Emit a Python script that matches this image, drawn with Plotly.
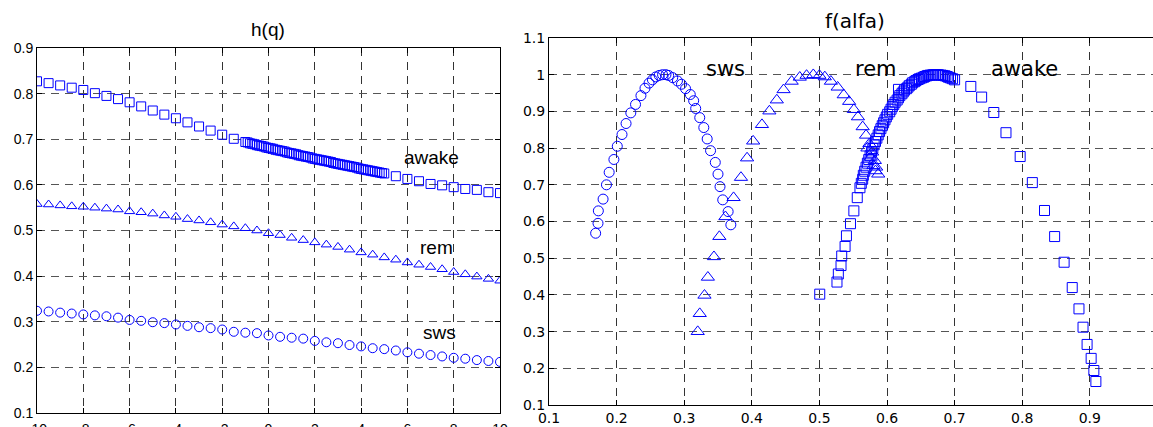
import plotly.graph_objects as go

# ---------------- Left panel: h(q) ----------------
q_coarse = [-10, -9.5, -9, -8.5, -8, -7.5, -7, -6.5, -6, -5.5, -5, -4.5, -4, -3.5, -3, -2.5,
            -2, -1.5, -1, -0.5, 0, 0.5, 1, 1.5, 2, 2.5, 3, 3.5, 4, 4.5, 5, 5.5, 6, 6.5, 7,
            7.5, 8, 8.5, 9, 9.5, 10]

h_sws = [0.324, 0.3225, 0.320, 0.318, 0.316, 0.314, 0.312, 0.309, 0.304, 0.302, 0.299,
         0.297, 0.294, 0.291, 0.288, 0.286, 0.283, 0.278, 0.276, 0.275, 0.270, 0.267,
         0.265, 0.263, 0.258, 0.255, 0.253, 0.249, 0.246, 0.242, 0.240, 0.237, 0.233,
         0.230, 0.227, 0.224, 0.221, 0.219, 0.216, 0.214, 0.212]

h_rem = [0.558, 0.557, 0.555, 0.553, 0.552, 0.550, 0.548, 0.546, 0.542, 0.540, 0.537,
         0.533, 0.530, 0.525, 0.522, 0.518, 0.513, 0.509, 0.505, 0.500, 0.494, 0.490,
         0.484, 0.479, 0.474, 0.469, 0.464, 0.458, 0.452, 0.447, 0.441, 0.436, 0.430,
         0.425, 0.420, 0.415, 0.409, 0.404, 0.399, 0.394, 0.390]

q_awake = [-10, -9.5, -9, -8.5, -8, -7.5, -7, -6.5, -6, -5.5, -5, -4.5, -4, -3.5, -3, -2.5,
           -2, -1.5,
           -1.0, -0.9, -0.8, -0.7, -0.6, -0.5, -0.4, -0.3, -0.2, -0.1,
           0.0, 0.1, 0.2, 0.3, 0.4, 0.5, 0.6, 0.7, 0.8, 0.9,
           1.0, 1.1, 1.2, 1.3, 1.4, 1.5, 1.6, 1.7, 1.8, 1.9,
           2.0, 2.1, 2.2, 2.3, 2.4, 2.5, 2.6, 2.7, 2.8, 2.9,
           3.0, 3.1, 3.2, 3.3, 3.4, 3.5, 3.6, 3.7, 3.8, 3.9,
           4.0, 4.1, 4.2, 4.3, 4.4, 4.5, 4.6, 4.7, 4.8, 4.9, 5.0,
           5.5, 6, 6.5, 7, 7.5, 8, 8.5, 9, 9.5, 10]

h_awake = [0.827, 0.823, 0.818, 0.813, 0.808, 0.801, 0.795, 0.788, 0.781, 0.772, 0.763,
           0.754, 0.746, 0.737, 0.728, 0.719, 0.710, 0.701,
           0.694, 0.693, 0.691, 0.690, 0.689, 0.687, 0.686, 0.685, 0.684, 0.682,
           0.681, 0.680, 0.679, 0.677, 0.676, 0.675, 0.674, 0.673, 0.671, 0.670,
           0.669, 0.668, 0.667, 0.665, 0.664, 0.663, 0.662, 0.661, 0.660, 0.658,
           0.657, 0.656, 0.655, 0.654, 0.653, 0.652, 0.651, 0.650, 0.648, 0.647,
           0.646, 0.645, 0.644, 0.643, 0.642, 0.641, 0.640, 0.639, 0.638, 0.636,
           0.635, 0.634, 0.633, 0.632, 0.631, 0.630, 0.629, 0.628, 0.627, 0.626, 0.625,
           0.619, 0.613, 0.608, 0.602, 0.599, 0.595, 0.591, 0.589, 0.584, 0.582]

q_ticks = [-10, -8, -6, -4, -2, 0, 2, 4, 6, 8, 10]
q_tick_text = ["-10", "-8", "-6", "-4", "-2", "0", "2", "4", "6", "8", "10"]
h_ticks = [0.1, 0.2, 0.3, 0.4, 0.5, 0.6, 0.7, 0.8, 0.9]

# ---------------- Right panel: f(alfa) ----------------
alfa_sws = [0.169, 0.1725, 0.173, 0.180, 0.185, 0.189, 0.196, 0.201, 0.208, 0.214, 0.221,
            0.228, 0.236, 0.242, 0.248, 0.253, 0.258, 0.263, 0.268, 0.273, 0.277,
            0.283, 0.290, 0.296, 0.302, 0.309, 0.314, 0.317, 0.323, 0.329, 0.334,
            0.339, 0.346, 0.350, 0.353, 0.357, 0.365, 0.369]
f_sws = [0.568, 0.595, 0.629, 0.661, 0.700, 0.734, 0.769, 0.805, 0.837, 0.867, 0.896,
         0.919, 0.943, 0.963, 0.977, 0.986, 0.994, 0.998, 1.000, 1.000, 0.998,
         0.992, 0.983, 0.974, 0.962, 0.946, 0.929, 0.908, 0.883, 0.856, 0.825,
         0.793, 0.761, 0.729, 0.695, 0.659, 0.627, 0.591]

alfa_rem = [0.320, 0.323, 0.330, 0.335, 0.344, 0.352, 0.361, 0.373, 0.384, 0.393, 0.402,
            0.415, 0.426, 0.437, 0.447, 0.459, 0.471, 0.481, 0.491,
            0.500, 0.508, 0.517, 0.527, 0.536, 0.544, 0.551, 0.557, 0.564, 0.569,
            0.571, 0.574, 0.576, 0.578, 0.580, 0.582, 0.583, 0.584, 0.587]
f_rem = [0.300, 0.349, 0.399, 0.448, 0.504, 0.559, 0.613, 0.665, 0.720, 0.773, 0.819,
         0.864, 0.901, 0.931, 0.959, 0.982, 0.993, 0.998, 1.000,
         0.998, 0.994, 0.982, 0.966, 0.945, 0.927, 0.905, 0.885, 0.858, 0.835,
         0.800, 0.812, 0.775, 0.789, 0.752, 0.766, 0.738, 0.748, 0.729]

alfa_awake = [0.5005, 0.526, 0.528, 0.532, 0.533, 0.538, 0.540, 0.546, 0.551, 0.556,
              0.560, 0.562, 0.564, 0.565, 0.567, 0.569, 0.571, 0.573, 0.575, 0.577,
              0.579, 0.581, 0.583, 0.585, 0.587, 0.589, 0.591, 0.593, 0.595, 0.597,
              0.599, 0.601, 0.604, 0.606, 0.608, 0.610, 0.612, 0.615, 0.617, 0.619,
              0.622, 0.624, 0.626, 0.629, 0.631, 0.633, 0.636, 0.638, 0.641, 0.643,
              0.646, 0.648, 0.651, 0.654, 0.656, 0.659, 0.661, 0.664, 0.667, 0.669,
              0.672, 0.675, 0.677, 0.680, 0.683, 0.686, 0.689, 0.691, 0.694, 0.697, 0.700,
              0.617,
              0.724, 0.740, 0.758, 0.776, 0.797, 0.815, 0.833, 0.848, 0.862, 0.874,
              0.884, 0.890, 0.896, 0.902, 0.906, 0.909]
f_awake = [0.402, 0.435, 0.457, 0.480, 0.506, 0.532, 0.561, 0.594, 0.629, 0.665,
           0.692, 0.704, 0.715, 0.726, 0.737, 0.748, 0.759, 0.769, 0.779, 0.789,
           0.799, 0.809, 0.818, 0.827, 0.836, 0.845, 0.853, 0.861, 0.869, 0.877,
           0.885, 0.892, 0.899, 0.906, 0.913, 0.919, 0.925, 0.931, 0.937, 0.943,
           0.948, 0.953, 0.958, 0.962, 0.966, 0.970, 0.974, 0.978, 0.981, 0.984,
           0.987, 0.989, 0.991, 0.993, 0.995, 0.997, 0.998, 0.999, 0.999, 1.000,
           1.000, 1.000, 0.999, 0.999, 0.998, 0.997, 0.995, 0.993, 0.991, 0.989, 0.986,
           0.960,
           0.968, 0.939, 0.897, 0.842, 0.777, 0.706, 0.630, 0.559, 0.489, 0.420,
           0.362, 0.312, 0.265, 0.227, 0.194, 0.164]

alfa_ticks = [0.1, 0.2, 0.3, 0.4, 0.5, 0.6, 0.7, 0.8, 0.9]
f_ticks = [0.1, 0.2, 0.3, 0.4, 0.5, 0.6, 0.7, 0.8, 0.9, 1.0, 1.1]
f_tick_text = ["0.1", "0.2", "0.3", "0.4", "0.5", "0.6", "0.7", "0.8", "0.9", "1", "1.1"]

BLUE = "#0000ff"
W, H = 1153, 427

fig = go.Figure()


def add(x, y, symbol, size, xa, ya):
    fig.add_trace(go.Scatter(
        x=x, y=y, mode="markers", xaxis=xa, yaxis=ya, hoverinfo="skip",
        marker=dict(symbol=symbol, size=size, color=BLUE, line=dict(width=1, color=BLUE)),
    ))


add(q_awake, h_awake, "square-open", 9, "x", "y")
add(q_coarse, h_rem, "triangle-up-open", 9, "x", "y")
add(q_coarse, h_sws, "circle-open", 9, "x", "y")

add(alfa_sws, f_sws, "circle-open", 10, "x2", "y2")
add(alfa_rem, f_rem, "triangle-up-open", 11.5, "x2", "y2")
add(alfa_awake, f_awake, "square-open", 10, "x2", "y2")

left_font = dict(family="Liberation Sans, Arial, sans-serif", size=14, color="black")
right_font = dict(family="DejaVu Sans, sans-serif", size=14, color="black")

common = dict(showline=True, linecolor="black", linewidth=1, ticks="inside", ticklen=5,
              tickcolor="black", tickwidth=1, showgrid=True, griddash="8px,6px",
              gridwidth=1, zeroline=False, fixedrange=True, automargin=False)

fig.update_layout(
    width=W, height=H, margin=dict(l=0, r=0, t=0, b=0, autoexpand=False),
    paper_bgcolor="white", plot_bgcolor="white", showlegend=False,
    xaxis=dict(domain=[37 / W, 500 / W], range=[-10, 10], tickmode="array",
               tickvals=q_ticks, ticktext=q_tick_text, tickfont=left_font,
               ticklabelstandoff=3,
               mirror="ticks", gridcolor="#333333", anchor="y", **common),
    yaxis=dict(domain=[(H - 413) / H, (H - 48) / H], range=[0.1, 0.9], tickmode="array",
               tickvals=h_ticks, tickfont=left_font, mirror="ticks",
               gridcolor="#555555", anchor="x", **common),
    xaxis2=dict(domain=[549 / W, 1.0], range=[0.1, 0.9935], tickmode="array",
                tickvals=alfa_ticks, tickfont=right_font, mirror="ticks",
                ticklabelstandoff=0,
                gridcolor="#333333", anchor="y2", **common),
    yaxis2=dict(domain=[(H - 405) / H, (H - 38) / H], range=[0.1, 1.1], tickmode="array",
                tickvals=f_ticks, ticktext=f_tick_text, tickfont=right_font,
                gridcolor="#555555", anchor="x2", **common),
)

lab_left = dict(family="Liberation Sans, Arial, sans-serif", size=19, color="black")
lab_right = dict(family="DejaVu Sans, sans-serif", size=21, color="black")

annots = [
    dict(text="h(q)", x=268 / W, y=(H - 30) / H, xref="paper", yref="paper",
         font=dict(family="Liberation Sans, Arial, sans-serif", size=19, color="black")),
    dict(text="f(alfa)", x=855 / W, y=(H - 21) / H, xref="paper", yref="paper",
         font=dict(family="DejaVu Sans, sans-serif", size=20, color="black")),
    dict(text="awake", x=7.06, y=0.661, xref="x", yref="y", font=lab_left),
    dict(text="rem", x=7.26, y=0.4636, xref="x", yref="y", font=lab_left),
    dict(text="sws", x=7.39, y=0.277, xref="x", yref="y", font=lab_left),
    dict(text="sws", x=0.361, y=1.016, xref="x2", yref="y2", font=lab_right),
    dict(text="rem", x=0.583, y=1.016, xref="x2", yref="y2", font=lab_right),
    dict(text="awake", x=0.803, y=1.016, xref="x2", yref="y2", font=lab_right),
]
for a in annots:
    a.update(showarrow=False, xanchor="center", yanchor="middle")
fig.update_layout(annotations=annots)

fig.write_html("out.html")
